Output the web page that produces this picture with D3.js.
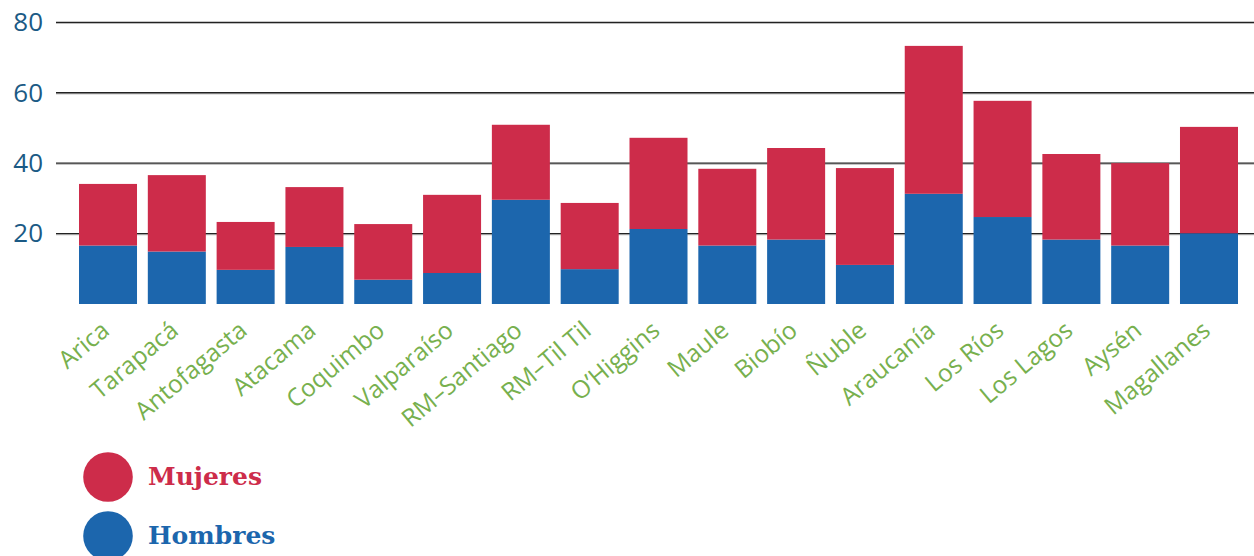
<!DOCTYPE html>
<html>
<head>
<meta charset="utf-8">
<script src="https://cdn.jsdelivr.net/npm/d3@7"></script>
<style>
  body { margin: 0; background: #fff; }
  svg { display: block; }
</style>
</head>
<body>
<svg></svg>
<script>
var screenWidth = 1254
var screenHeight = 556

var mujeresColor = "#cd2c4a"
var hombresColor = "#1c66ad"
var labelColor = "#77b04e"
var tickColor = "#1b5a85"

// data
var regiones = ["Arica", "Tarapacá", "Antofagasta", "Atacama", "Coquimbo", "Valparaíso",
  "RM–Santiago", "RM–Til Til", "O’Higgins", "Maule", "Biobío", "Ñuble", "Araucanía",
  "Los Ríos", "Los Lagos", "Aysén", "Magallanes"]
var hombres = [16.6, 14.9, 9.7, 16.2, 6.9, 8.8, 29.6, 9.9, 21.3, 16.6, 18.3, 11.1, 31.3, 24.7, 18.3, 16.6, 20.1]
var mujeres = [17.5, 21.7, 13.6, 17.0, 15.8, 22.2, 21.3, 18.8, 25.9, 21.8, 26.0, 27.5, 42.0, 33.0, 24.3, 23.4, 30.2]
var ticks = [20, 40, 60, 80]
var series = ["Mujeres", "Hombres"]

var svg = d3.select('svg')
svg.attr("width", screenWidth)
svg.attr("height", screenHeight)

var x = d3.scaleBand()
  .domain(regiones)
  .range([79 - 5.4, 1238 + 5.4])
  .paddingInner(0.157)
  .paddingOuter(0.0785)

var y = d3.scaleLinear()
  .domain([0, 80])
  .range([304, 22.3])

// grid lines
var grid = svg.append("g")
grid.selectAll("line.shadow")
  .data(ticks)
  .enter().append("line")
  .attr("x1", 56).attr("x2", screenWidth)
  .attr("y1", d => y(d) + 1.2).attr("y2", d => y(d) + 1.2)
  .attr("stroke", "#bbb").attr("stroke-width", 1)

grid.selectAll("line.main")
  .data(ticks)
  .enter().append("line")
  .attr("x1", 56).attr("x2", screenWidth)
  .attr("y1", d => y(d)).attr("y2", d => y(d))
  .attr("stroke", "#222").attr("stroke-width", 1.3)

// y tick labels
var yAxis = d3.axisLeft(y).tickValues(ticks).tickSize(0).tickPadding(0)
var yg = svg.append("g").attr("transform", "translate(43,0)").call(yAxis)
yg.select(".domain").remove()
yg.selectAll("text")
  .attr("font-family", "Open Sans")
  .attr("font-size", 26)
  .attr("fill", tickColor)

// stacked bars
var rows = regiones.map((r, i) => ({region: r, Hombres: hombres[i], Mujeres: mujeres[i]}))
var stack = d3.stack().keys(["Hombres", "Mujeres"])(rows)
var colors = {Hombres: hombresColor, Mujeres: mujeresColor}

svg.append("g").selectAll("g")
  .data(stack)
  .enter().append("g")
  .attr("fill", d => colors[d.key])
  .selectAll("rect")
  .data(d => d)
  .enter().append("rect")
  .attr("x", d => x(d.data.region))
  .attr("width", x.bandwidth())
  .attr("y", d => y(d[1]))
  .attr("height", d => y(d[0]) - y(d[1]))

// x labels
var xAxis = d3.axisBottom(x).tickSize(0).tickPadding(0)
var xg = svg.append("g").attr("transform", "translate(0,333)").call(xAxis)
xg.select(".domain").remove()
xg.selectAll("text")
  .attr("font-family", "Open Sans")
  .attr("font-size", 24.5)
  .attr("fill", labelColor)
  .attr("text-anchor", "end")
  .attr("y", 0)
  .attr("dy", 0)
  .attr("transform", "translate(3,0) rotate(-40)")

// legend
var legend = svg.append("g").selectAll("g")
  .data(series)
  .enter().append("g")
  .attr("transform", (d, i) => "translate(108," + (477 + i * 59) + ")")

legend.append("circle")
  .attr("r", 24.8)
  .attr("fill", d => d == "Mujeres" ? mujeresColor : hombresColor)

legend.append("text")
  .attr("x", 40)
  .attr("y", 8)
  .attr("font-family", "DejaVu Serif")
  .attr("font-weight", "bold")
  .attr("font-size", 25)
  .attr("fill", d => d == "Mujeres" ? mujeresColor : hombresColor)
  .text(d => d)
</script>
</body>
</html>
